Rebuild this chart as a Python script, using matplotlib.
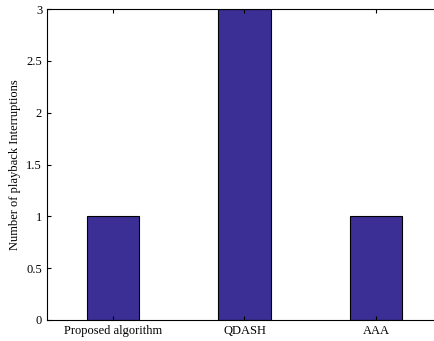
import matplotlib.pyplot as plt
import numpy as np

plt.rcParams['font.family'] = 'Liberation Serif'

methods = ['Proposed algorithm', 'QDASH', 'AAA']
interruptions = [1, 3, 1]

fig = plt.figure(figsize=(4.35, 3.41), dpi=100)
# axes runs past the right edge of the figure, as in the original crop
ax = fig.add_axes([47 / 435, 21 / 341, 395 / 435, 311 / 341])

x = np.arange(1, len(methods) + 1)
ax.bar(x, interruptions, width=0.4, color='#3b2f96', edgecolor='black', linewidth=0.8)

ax.set_xlim(0.5, 3.5)
ax.set_ylim(0, 3)
ax.set_xticks(x)
ax.set_xticklabels(methods, fontsize=9)
ax.set_yticks(np.arange(0, 3.01, 0.5))
ax.set_yticklabels(['0', '0.5', '1', '1.5', '2', '2.5', '3'], fontsize=9)
ax.tick_params(direction='in', top=True, right=False, length=3, width=0.8)
ax.set_ylabel('Number of playback Interruptions', fontsize=9)
for s in ax.spines.values():
    s.set_linewidth(0.8)
ax.spines['right'].set_visible(False)

fig.savefig('out.png', dpi=100)
